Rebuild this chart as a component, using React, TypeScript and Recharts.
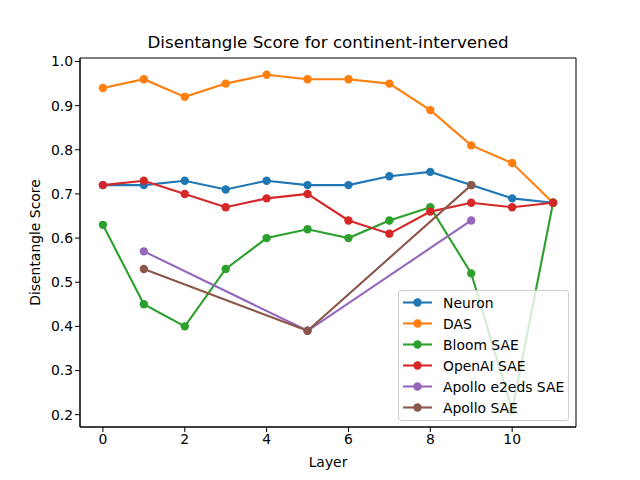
import React from "react";
import {
  Line,
  LineChart,
  ReferenceArea,
  XAxis,
  YAxis,
} from "recharts";

const layers = [0, 1, 2, 3, 4, 5, 6, 7, 8, 9, 10, 11];
const neuron = [0.72, 0.72, 0.73, 0.71, 0.73, 0.72, 0.72, 0.74, 0.75, 0.72, 0.69, 0.68];
const das = [0.94, 0.96, 0.92, 0.95, 0.97, 0.96, 0.96, 0.95, 0.89, 0.81, 0.77, 0.68];
const bloom = [0.63, 0.45, 0.4, 0.53, 0.6, 0.62, 0.6, 0.64, 0.67, 0.52, 0.21, 0.68];
const openai = [0.72, 0.73, 0.7, 0.67, 0.69, 0.7, 0.64, 0.61, 0.66, 0.68, 0.67, 0.68];
const apolloE2e = [null, 0.57, null, null, null, 0.39, null, null, null, 0.64, null, null];
const apollo = [null, 0.53, null, null, null, 0.39, null, null, null, 0.72, null, null];

const xTicks = [0, 2, 4, 6, 8, 10];
const yTicks = [0.2, 0.3, 0.4, 0.5, 0.6, 0.7, 0.8, 0.9, 1.0];

const series = [
  { key: "neuron", name: "Neuron", color: "#1f77b4" },
  { key: "das", name: "DAS", color: "#ff7f0e" },
  { key: "bloom", name: "Bloom SAE", color: "#2ca02c" },
  { key: "openai", name: "OpenAI SAE", color: "#d62728" },
  { key: "apolloE2e", name: "Apollo e2eds SAE", color: "#9467bd" },
  { key: "apollo", name: "Apollo SAE", color: "#8c564b" },
];

const data = layers.map((l, i) => ({
  layer: l,
  neuron: neuron[i],
  das: das[i],
  bloom: bloom[i],
  openai: openai[i],
  apolloE2e: apolloE2e[i],
  apollo: apollo[i],
}));

const FONT = "'DejaVu Sans', sans-serif";
const X_DOMAIN: [number, number] = [-0.56, 11.56];
const Y_DOMAIN: [number, number] = [0.172, 1.008];

function LegendBox() {
  return (
    <div
      style={{
        position: "absolute",
        left: 398,
        top: 290,
        width: 171,
        boxSizing: "border-box",
        background: "rgba(255,255,255,0.8)",
        border: "1px solid #cccccc",
        borderRadius: 3,
        padding: "1px 0 2px 4px",
        fontFamily: FONT,
        fontSize: 13.9,
        color: "#000",
      }}
    >
      {series.map((s) => (
        <div key={s.key} style={{ display: "flex", alignItems: "center", height: 21 }}>
          <svg width={40} height={21} style={{ flex: "none" }}>
            <line x1={0} y1={10.5} x2={29} y2={10.5} stroke={s.color} strokeWidth={2.1} />
            <circle cx={14.5} cy={10.5} r={4.2} fill={s.color} />
          </svg>
          <span style={{ whiteSpace: "nowrap" }}>{s.name}</span>
        </div>
      ))}
    </div>
  );
}

export default function App() {
  return (
    <div style={{ position: "absolute", left: 0, top: 0, width: 640, height: 480, background: "#fff" }}>
      <div
        style={{
          position: "absolute",
          left: 80,
          width: 496,
          top: 32,
          textAlign: "center",
          fontFamily: FONT,
          fontSize: 16.7,
          lineHeight: "20px",
          color: "#000",
        }}
      >
        Disentangle Score for continent-intervened
      </div>
      <LineChart
        width={640}
        height={480}
        data={data}
        margin={{ top: 58, right: 64, bottom: 8, left: 20 }}
      >
        <XAxis
          dataKey="layer"
          type="number"
          domain={X_DOMAIN}
          ticks={xTicks}
          allowDataOverflow
          height={45}
          tickSize={5}
          tickLine={{ stroke: "#000" }}
          axisLine={{ stroke: "#000" }}
          tick={{ fill: "#000", fontSize: 13.9, fontFamily: FONT }}
          label={{
            value: "Layer",
            position: "insideBottom",
            offset: 5,
            style: { fill: "#000", fontSize: 13.9, fontFamily: FONT },
          }}
        />
        <YAxis
          type="number"
          domain={Y_DOMAIN}
          ticks={yTicks}
          allowDataOverflow
          width={60}
          tickSize={5}
          tickLine={{ stroke: "#000" }}
          axisLine={{ stroke: "#000" }}
          tickFormatter={(v) => Number(v).toFixed(1)}
          tick={{ fill: "#000", fontSize: 13.9, fontFamily: FONT }}
          label={{
            content: (props: any) => {
              const vb = props.viewBox || {};
              const cx = 35;
              const cy = vb.y + vb.height / 2;
              return (
                <text
                  x={cx}
                  y={cy}
                  transform={`rotate(-90 ${cx} ${cy})`}
                  textAnchor="middle"
                  dominantBaseline="central"
                  fill="#000"
                  fontSize={13.9}
                  fontFamily={FONT}
                >
                  Disentangle Score
                </text>
              );
            },
          }}
        />
        <ReferenceArea
          x1={X_DOMAIN[0]}
          x2={X_DOMAIN[1]}
          y1={Y_DOMAIN[0]}
          y2={Y_DOMAIN[1]}
          fill="none"
          stroke="#000"
          strokeWidth={1}
        />
        {series.map((s) => (
          <Line
            key={s.key}
            dataKey={s.key}
            name={s.name}
            stroke={s.color}
            strokeWidth={2.1}
            dot={{ r: 4.2, fill: s.color, stroke: s.color, strokeWidth: 0 }}
            activeDot={false}
            connectNulls
            isAnimationActive={false}
          />
        ))}
      </LineChart>
      <LegendBox />
    </div>
  );
}
